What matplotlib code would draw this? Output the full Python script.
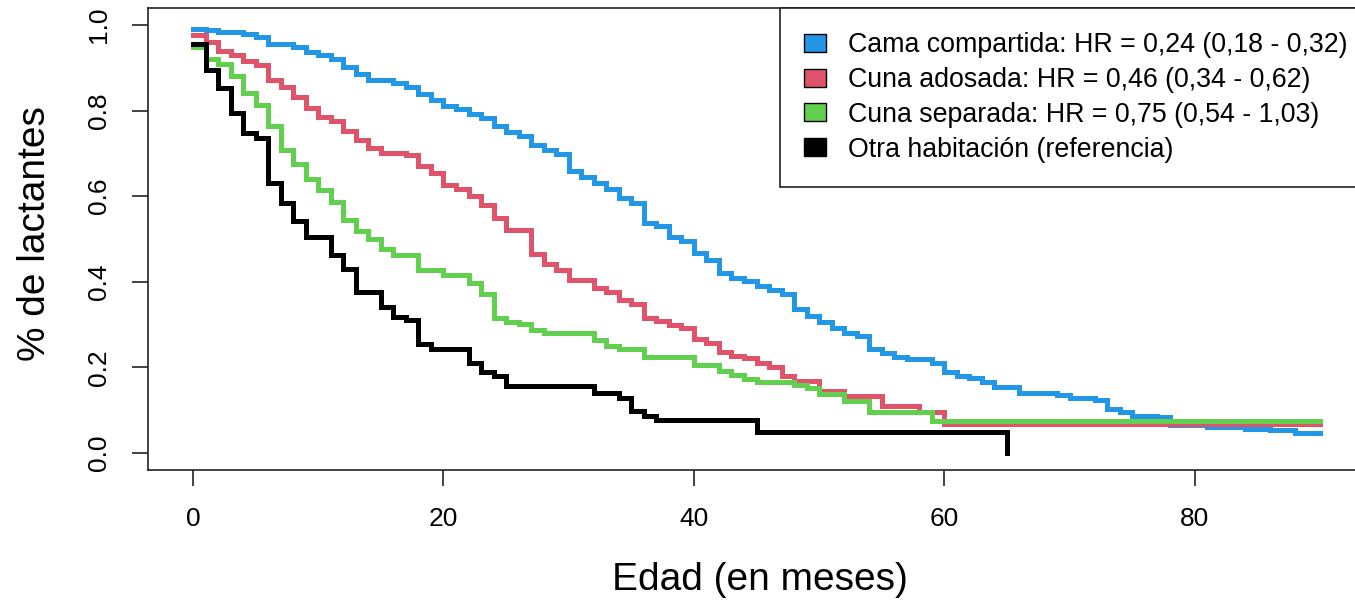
import matplotlib
matplotlib.use("Agg")
import matplotlib.pyplot as plt
from matplotlib.patches import Patch

plt.rcParams['font.family'] = ['Liberation Sans', 'DejaVu Sans']

# Curvas de supervivencia (Kaplan-Meier)
t_cama = [0, 1, 2, 4, 5, 6, 8, 9, 10, 11, 12, 13, 14, 16, 17, 18, 19, 20, 21, 22,
          23, 24, 25, 26, 27, 28, 29, 30, 31, 32, 33, 34, 35, 36, 37, 38, 39, 40, 41, 42,
          43, 44, 45, 46, 47, 48, 49, 50, 51, 52, 53, 54, 55, 56, 57, 59, 60, 61, 62, 63,
          64, 66, 69, 70, 72, 73, 74, 75, 77, 78, 81, 84, 86, 88, 90]
s_cama = [0.992, 0.988, 0.984, 0.979, 0.973, 0.957, 0.949, 0.938, 0.93, 0.92,
          0.901, 0.886, 0.872, 0.864, 0.856, 0.839, 0.825, 0.812, 0.803, 0.792,
          0.784, 0.763, 0.751, 0.74, 0.72, 0.709, 0.699, 0.66, 0.645, 0.632,
          0.617, 0.596, 0.584, 0.538, 0.53, 0.505, 0.495, 0.468, 0.452, 0.421,
          0.408, 0.402, 0.39, 0.381, 0.372, 0.337, 0.32, 0.305, 0.293, 0.281,
          0.273, 0.242, 0.233, 0.225, 0.219, 0.21, 0.19, 0.18, 0.176, 0.165,
          0.155, 0.14, 0.135, 0.128, 0.124, 0.103, 0.096, 0.087, 0.083, 0.066,
          0.061, 0.057, 0.054, 0.046, 0.046]

t_adosada = [0, 1, 2, 3, 4, 5, 6, 7, 8, 9, 10, 11, 12, 13, 14, 15, 17, 18, 19, 20,
             21, 22, 23, 24, 25, 27, 28, 29, 30, 32, 33, 34, 35, 36, 37, 38, 39, 40, 41, 42,
             43, 44, 45, 46, 47, 48, 50, 52, 55, 58, 60, 90]
s_adosada = [0.977, 0.961, 0.94, 0.93, 0.917, 0.907, 0.872, 0.856, 0.831, 0.806,
             0.786, 0.775, 0.753, 0.732, 0.713, 0.702, 0.697, 0.67, 0.654, 0.627,
             0.617, 0.6, 0.58, 0.549, 0.52, 0.465, 0.442, 0.428, 0.405, 0.385,
             0.377, 0.357, 0.347, 0.316, 0.308, 0.298, 0.293, 0.267, 0.258, 0.235,
             0.227, 0.221, 0.211, 0.2, 0.179, 0.169, 0.145, 0.132, 0.110, 0.095,
             0.068, 0.068]

t_separada = [0, 1, 2, 3, 4, 5, 6, 7, 8, 9, 10, 11, 12, 13, 14, 15, 16, 18, 20, 22,
              23, 24, 25, 26, 27, 28, 32, 33, 34, 36, 40, 42, 43, 44, 45, 48, 49, 50, 52, 54,
              59, 90]
s_separada = [0.948, 0.92, 0.908, 0.88, 0.842, 0.813, 0.763, 0.709, 0.676, 0.64,
              0.614, 0.586, 0.545, 0.518, 0.499, 0.476, 0.462, 0.428, 0.415, 0.396,
              0.371, 0.316, 0.306, 0.301, 0.287, 0.280, 0.263, 0.25, 0.242, 0.223,
              0.205, 0.192, 0.182, 0.172, 0.166, 0.159, 0.151, 0.138, 0.122, 0.096,
              0.074, 0.074]

t_otra = [0, 1, 2, 3, 4, 5, 6, 7, 8, 9, 11, 12, 13, 15, 16, 17, 18, 19, 22, 23,
          24, 25, 32, 34, 35, 36, 37, 45, 65]
s_otra = [0.957, 0.895, 0.853, 0.795, 0.748, 0.737, 0.632, 0.585, 0.542, 0.505,
          0.462, 0.430, 0.375, 0.340, 0.318, 0.311, 0.254, 0.243, 0.211, 0.188,
          0.179, 0.157, 0.140, 0.128, 0.099, 0.087, 0.076, 0.050, 0.0]

labels = ['Cama compartida: HR = 0,24 (0,18 - 0,32)',
          'Cuna adosada: HR = 0,46 (0,34 - 0,62)',
          'Cuna separada: HR = 0,75 (0,54 - 1,03)',
          'Otra habitación (referencia)']
colors = ['#2297E6', '#DF536B', '#61D04F', 'black']

W, H = 1355, 607
fig = plt.figure(figsize=(W / 100, H / 100), dpi=100)
ax = fig.add_axes([148 / W, (H - 470) / H, (1365 - 148) / W, (470 - 8) / H])

series = [(t_cama, s_cama), (t_adosada, s_adosada), (t_separada, s_separada), (t_otra, s_otra)]
for (t, s), c in zip(series, colors):
    ax.step(t, s, where='post', color=c, lw=3.6, solid_joinstyle='miter')

ax.set_xlim(-3.6, 93.6)
ax.set_ylim(-0.04, 1.04)
ax.set_xticks([0, 20, 40, 60, 80])
ax.set_yticks([0.0, 0.2, 0.4, 0.6, 0.8, 1.0])
ax.set_yticklabels(['0.0', '0.2', '0.4', '0.6', '0.8', '1.0'], rotation=90, va='center')
ax.tick_params(axis='both', labelsize=19, length=11.5, width=1.2, color='#222222')
ax.tick_params(axis='x', pad=15)
ax.tick_params(axis='y', pad=15)
for sp in ax.spines.values():
    sp.set_linewidth(1.2)
    sp.set_color('#222222')

fig.text(760 / W, 1 - 580 / H, 'Edad (en meses)', fontsize=28, ha='center', va='center')
fig.text(35 / W, 1 - 234 / H, '% de lactantes', fontsize=28, ha='center', va='center',
         rotation=90)

handles = [Patch(facecolor=c, edgecolor='black', linewidth=1.0) for c in colors]
leg = ax.legend(handles, labels, loc='upper left', bbox_to_anchor=((780 - 148) / 1217, 1.0),
                fontsize=19.3, frameon=True, fancybox=False, edgecolor='#222222', framealpha=1,
                borderaxespad=0, borderpad=0.9, handlelength=0.8, handleheight=0.65,
                handletextpad=0.85, labelspacing=0.33)
leg.get_frame().set_linewidth(1.2)

fig.savefig('out.png', dpi=100)
